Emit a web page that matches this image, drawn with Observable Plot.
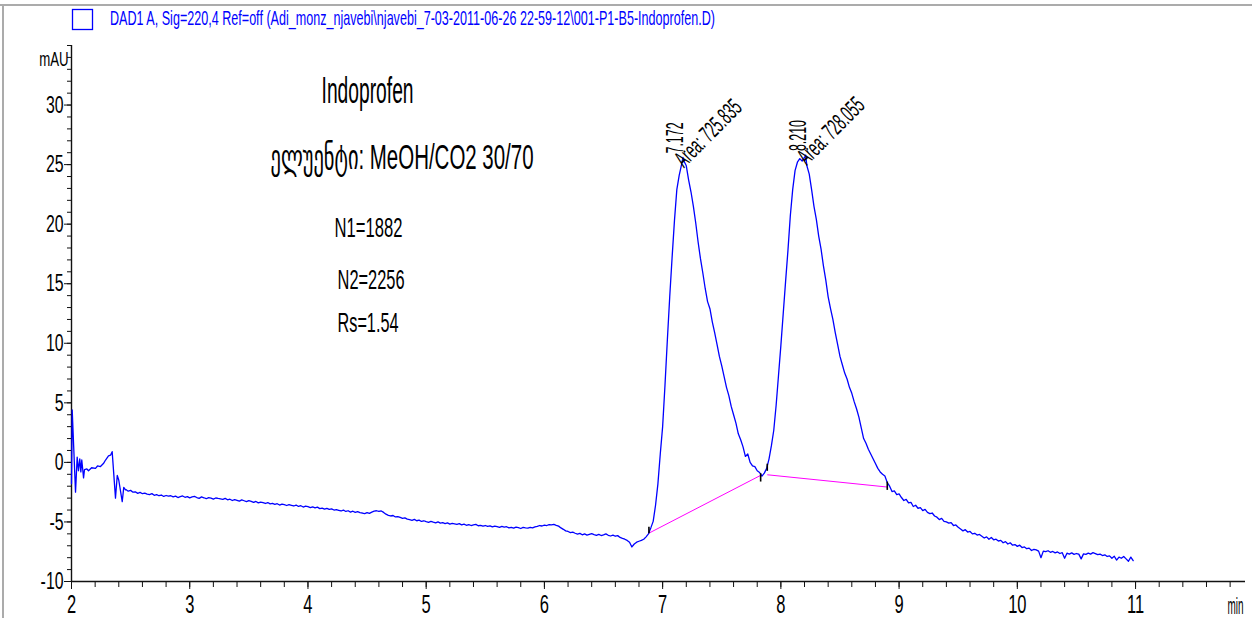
<!DOCTYPE html>
<html>
<head>
<meta charset="utf-8">
<script src="https://cdn.jsdelivr.net/npm/d3@7"></script>
<script src="https://cdn.jsdelivr.net/npm/@observablehq/plot@0.6"></script>
<style>
  html, body { margin: 0; padding: 0; background: #fff; }
  #page { position: relative; width: 1252px; height: 618px; overflow: hidden;
          font-family: "Liberation Sans", Arial, "DejaVu Sans", sans-serif; }
  #head { display: block; }
  .edge { position: absolute; background: #ababab; }
</style>
</head>
<body>
<div id="page">
  <svg id="head" width="1252" height="38"></svg>
  <div id="chart"></div>
  <div class="edge" style="left:0;top:4px;width:1252px;height:2px"></div>
  <div class="edge" style="left:2px;top:4px;width:2px;height:614px"></div>
</div>
<script>
// ---- Signal trace (DAD1 A, 220 nm), time in min, signal in mAU ----

// Injection disturbance, irregularly read points
const earlyTime = [2.000, 2.006, 2.034, 2.048, 2.059, 2.070, 2.079, 2.087, 2.102, 2.110,
                   2.130, 2.144, 2.170, 2.203, 2.220, 2.245, 2.270, 2.288, 2.313, 2.330,
                   2.344, 2.372, 2.387, 2.400, 2.429, 2.442, 2.457];
const earlySignal = [-1.8, 4.4, -2.5, 0.45, -0.7, 0.3, -0.8, 0.2, -1.3, -0.6,
                     -0.55, -0.7, -0.45, -0.5, -0.3, -0.35, -0.1, 0.2, 0.55, 0.6,
                     0.9, -3.0, -1.1, -1.5, -3.3, -2.1, -2.3];

// Remaining segments are sampled every 0.02 min
const sampleStep = 0.02;

// Drifting baseline, 2.46 - 6.88 min
const baselineStart = 2.46;
const baselineSignal = [
  -2.28, -2.42, -2.35, -2.5, -2.47, -2.6, -2.52, -2.63, -2.58, -2.66,
  -2.7, -2.62, -2.76, -2.71, -2.8, -2.74, -2.86, -2.78, -2.84, -2.8,
  -2.9, -2.83, -2.95, -2.88, -2.82, -2.93, -2.87, -2.98, -2.9, -2.86,
  -2.95, -3.02, -2.9, -2.97, -3.05, -2.96, -3.0, -3.08, -2.99, -3.03,
  -3.06, -3.1, -3.02, -3.14, -3.09, -3.2, -3.12, -3.18, -3.25, -3.15,
  -3.22, -3.3, -3.21, -3.27, -3.36, -3.28, -3.4, -3.33, -3.38, -3.45,
  -3.37, -3.48, -3.44, -3.52, -3.47, -3.58, -3.5, -3.55, -3.62, -3.54,
  -3.6, -3.66, -3.58, -3.7, -3.64, -3.75, -3.68, -3.72, -3.8, -3.74,
  -3.82, -3.76, -3.88, -3.84, -3.93, -3.86, -3.95, -3.9, -4.0, -3.96,
  -4.02, -4.08, -4.0, -4.12, -4.06, -4.17, -4.1, -4.2, -4.14, -4.22,
  -4.25, -4.3, -4.22, -4.28, -4.18, -4.1, -4.06, -4.12, -4.08, -4.2,
  -4.35, -4.45, -4.5, -4.46, -4.58, -4.55, -4.62, -4.7, -4.66, -4.76,
  -4.8, -4.86, -4.78, -4.9, -4.85, -4.96, -4.9, -4.98, -5.03, -4.95,
  -5.02, -5.08, -5.0, -5.1, -5.06, -5.14, -5.08, -5.18, -5.12, -5.16,
  -5.2, -5.14, -5.24, -5.18, -5.28, -5.22, -5.3, -5.25, -5.2, -5.32,
  -5.28, -5.35, -5.3, -5.38, -5.33, -5.42, -5.36, -5.4, -5.46, -5.38,
  -5.44, -5.4, -5.5, -5.45, -5.52, -5.43, -5.48, -5.55, -5.46, -5.5,
  -5.52, -5.45, -5.5, -5.42, -5.38, -5.3, -5.34, -5.26, -5.3, -5.22,
  -5.25, -5.2, -5.28, -5.35, -5.5, -5.62, -5.75, -5.8, -5.9, -5.86,
  -5.95, -6.02, -5.96, -6.08, -6.0, -6.1, -6.04, -5.98, -6.06, -6.12,
  -6.05, -6.14, -6.08, -6.0, -6.12, -6.18, -6.1, -6.2, -6.15, -6.3,
  -6.38, -6.45, -6.55, -6.7, -7.1, -6.85, -6.7, -6.62, -6.55, -6.45,
  -6.25, -6.0
];

// First enantiomer peak, 6.90 - 7.66 min
const peak1Start = 6.90;
const peak1Signal = [
  -5.5, -4.95, -3.6, -1.8, 0.7, 3.0, 6.5, 10.3, 13.9, 17.2,
  20.3, 22.9, 24.1, 25.0, 25.3, 24.9, 23.7, 22.7, 21.5, 20.1,
  18.5, 17.1, 15.9, 14.6, 13.5, 12.9, 11.8, 10.9, 9.9, 8.9,
  8.1, 7.2, 6.3, 5.6, 4.7, 4.0, 3.3, 2.4, 1.9
];

// Valley between the peaks, 7.68 - 7.92 min
const valleyStart = 7.68;
const valleySignal = [1.3, 0.5, 0.7, 0.0, -0.3, -0.35, -0.7, -0.85, -1.15, -0.9, -0.5, 0.3, 1.4];

// Second enantiomer peak, 7.94 - 8.90 min
const peak2Start = 7.94;
const peak2Signal = [
  2.7, 4.8, 7.3, 9.8, 12.5, 15.2, 17.8, 20.7, 22.9, 24.5,
  25.2, 25.5, 25.3, 25.6, 24.9, 24.2, 22.9, 21.5, 20.4, 19.0,
  17.9, 16.5, 15.3, 13.9, 12.9, 12.0, 10.9, 9.9, 8.9, 8.2,
  7.5, 7.0, 6.3, 5.8, 5.1, 4.5, 3.8, 2.9, 2.0, 1.6,
  1.1, 0.7, 0.3, -0.1, -0.5, -0.8, -1.0, -1.15, -1.7
];

// Tail after the second peak, 8.92 - 10.98 min
const tailStart = 8.92;
const tailSignal = [
  -2.0, -2.45, -2.4, -2.7, -2.65, -2.95, -3.2, -3.1, -3.4, -3.35,
  -3.7, -3.6, -3.85, -3.8, -4.05, -3.95, -4.2, -4.3, -4.25, -4.5,
  -4.6, -4.8, -4.7, -4.95, -5.0, -5.1, -5.05, -5.3, -5.25, -5.45,
  -5.6, -5.75, -5.65, -5.85, -5.8, -6.0, -5.95, -6.1, -6.05, -6.2,
  -6.35, -6.25, -6.45, -6.3, -6.5, -6.45, -6.6, -6.55, -6.75, -6.65,
  -6.85, -6.75, -6.95, -6.9, -7.05, -6.95, -7.15, -7.1, -7.25, -7.2,
  -7.4, -7.3, -7.35, -7.45, -8.0, -7.45, -7.5, -7.42, -7.55, -7.48,
  -7.6, -7.52, -7.65, -7.58, -8.05, -7.62, -7.7, -7.6, -7.72, -7.65,
  -7.7, -8.1, -7.68, -7.72, -7.62, -7.7, -7.58, -7.66, -7.75, -7.7,
  -7.82, -7.76, -7.9, -7.85, -8.05, -7.88, -8.2, -7.95, -8.05, -7.9,
  -8.1, -8.3, -7.95, -8.25
];

// Integrated peaks: retention time (min), apex height (mAU), area
const peakTimes = [7.172, 8.210];
const peakHeights = [25.6, 25.8];
const peakAreas = [725.835, 728.055];

// Integration baselines (start -> end) and their boundary markers
const baseFromTime = [6.884, 7.885];
const baseFromSignal = [-5.94, -1.04];
const baseToTime = [7.829, 8.900];
const baseToSignal = [-1.09, -2.07];
const markerTime = [6.884, 7.829, 7.885, 8.900];
const markerLow = [-6.0, -1.65, -0.75, -2.35];
const markerHigh = [-5.45, -0.95, -0.15, -1.65];

// Axis ticks
const timeTicks = [2, 3, 4, 5, 6, 7, 8, 9, 10, 11];
const signalTicks = [-10, -5, 0, 5, 10, 15, 20, 25, 30];

// Method notes printed on the chromatogram
const noteLines = ["Indoprofen", "ელუენტი: MeOH/CO2 30/70", "N1=1882", "N2=2256", "Rs=1.54"];

const titleText = "DAD1 A, Sig=220,4 Ref=off (Adi_monz_njavebi\\njavebi_7-03-2011-06-26 22-59-12\\001-P1-B5-Indoprofen.D)";

// ---- Build the trace table ----
const trace = earlyTime.map((t, i) => ({t, v: earlySignal[i]}));
for (const [start, values] of [[baselineStart, baselineSignal], [peak1Start, peak1Signal],
                               [valleyStart, valleySignal], [peak2Start, peak2Signal],
                               [tailStart, tailSignal]]) {
  values.forEach((v, i) => trace.push({t: Math.round((start + i * sampleStep) * 1000) / 1000, v}));
}
peakTimes.forEach((t, i) => trace.push({t, v: peakHeights[i]}));
trace.sort((a, b) => a.t - b.t);

const peaks = peakTimes.map((t, i) => ({t, v: peakHeights[i], area: peakAreas[i]}));
const baselines = baseFromTime.map((t, i) => ({t1: t, v1: baseFromSignal[i], t2: baseToTime[i], v2: baseToSignal[i]}));
const markers = markerTime.map((t, i) => ({t, lo: markerLow[i], hi: markerHigh[i]}));

// Layout of the printed notes (anchor in data units, font size, printed width)
const noteLayout = [
  {t: 4.504, v: 31.13, size: 36, width: 92},
  {t: 4.796, v: 25.59, size: 35, width: 263},
  {t: 4.513, v: 19.71, size: 28, width: 68},
  {t: 4.534, v: 15.29, size: 28, width: 67},
  {t: 4.508, v: 11.72, size: 28, width: 61}
];
const notes = noteLines.map((text, i) => ({text, ...noteLayout[i]}));

const font = '"Liberation Sans", Arial, "DejaVu Sans", sans-serif';
const ink = "#111";

// ---- Header: legend swatch and signal description ----
const head = d3.select("#head");
head.append("rect").attr("x", 72.5).attr("y", 9.5).attr("width", 20).attr("height", 20)
  .attr("fill", "none").attr("stroke", "#0000ff").attr("stroke-width", 1.3);
head.append("text").attr("x", 110).attr("y", 25).attr("fill", "#0000ff")
  .attr("font-family", font).attr("font-size", 21)
  .attr("textLength", 605).attr("lengthAdjust", "spacingAndGlyphs")
  .text(titleText);

// ---- Chromatogram ----
const chart = Plot.plot({
  width: 1252,
  height: 580,
  marginLeft: 71,
  marginRight: 7,
  marginTop: 7,
  marginBottom: 37,
  style: {fontFamily: font, background: "transparent", overflow: "visible"},
  x: {domain: [2, 11.93], label: null},
  y: {domain: [-10, 35], label: null},
  marks: [
    // minor and major ticks
    Plot.axisX(d3.range(10, 60).map(k => k / 5), {anchor: "bottom", tickSize: 6, tickFormat: () => "", stroke: ink, label: null}),
    Plot.axisX(timeTicks, {anchor: "bottom", tickSize: 8, tickPadding: 6, fontSize: 25, stroke: ink, color: "#000", tickFormat: d => String(d), label: null, className: "tlabel"}),
    Plot.axisY(d3.range(-10, 36, 1), {anchor: "left", tickSize: 4, tickFormat: () => "", stroke: ink, label: null}),
    Plot.axisY(signalTicks, {anchor: "left", tickSize: 7, tickPadding: 1, fontSize: 24, stroke: ink, color: "#000", tickFormat: d => String(d), label: null, className: "tlabel"}),
    Plot.ruleX([2], {stroke: ink, strokeWidth: 1.4}),
    Plot.ruleY([-10], {stroke: ink, strokeWidth: 1.4}),
    Plot.text(["mAU"], {frameAnchor: "top-left", textAnchor: "end", lineAnchor: "middle", dx: -3, dy: 14, fontSize: 20, fill: "#000", className: "tlabel"}),
    Plot.text(["min"], {frameAnchor: "bottom-right", textAnchor: "end", lineAnchor: "middle", dx: -2, dy: 25, fontSize: 24, fill: "#000", className: "unit"}),

    // integration baselines and boundary markers
    Plot.link(baselines, {x1: "t1", y1: "v1", x2: "t2", y2: "v2", stroke: "#ff00ff", strokeWidth: 1}),

    // detector signal
    Plot.line(trace, {x: "t", y: "v", stroke: "#0000ff", strokeWidth: 1.3}),

    Plot.ruleX(markers, {x: "t", y1: "lo", y2: "hi", stroke: "#000", strokeWidth: 1.6}),

    // peak annotations
    Plot.text(peaks, {x: "t", y: "v", text: d => d3.format(".3f")(d.t), rotate: -90, textAnchor: "start", lineAnchor: "bottom", dy: -4, fontSize: 24, fill: "#000", className: "rt"}),
    Plot.text(peaks, {x: "t", y: "v", text: d => "Area: " + d3.format(".3f")(d.area), rotate: -45, textAnchor: "start", lineAnchor: "bottom", dx: 1, dy: 11, fontSize: 24, fill: "#000", className: "area"}),

    // method notes
    Plot.text(notes, {x: "t", y: "v", text: "text", fontSize: "size", textAnchor: "middle", lineAnchor: "middle", fill: "#000", className: "note"})
  ]
});
document.getElementById("chart").appendChild(chart);

// Narrow lettering: squeeze each text run to its printed width
function squeeze(nodes, widthOf) {
  nodes.forEach((node, i) => {
    node.setAttribute("textLength", widthOf(node, i));
    node.setAttribute("lengthAdjust", "spacingAndGlyphs");
  });
}
squeeze(chart.querySelectorAll(".tlabel text"), n => n.getComputedTextLength() * 0.66);
squeeze(chart.querySelectorAll(".unit text"), () => 16);
squeeze(chart.querySelectorAll(".note text"), (n, i) => notes[i].width);
squeeze(chart.querySelectorAll(".rt text"), () => 31);
squeeze(chart.querySelectorAll(".area text"), () => 84);
</script>
</body>
</html>
